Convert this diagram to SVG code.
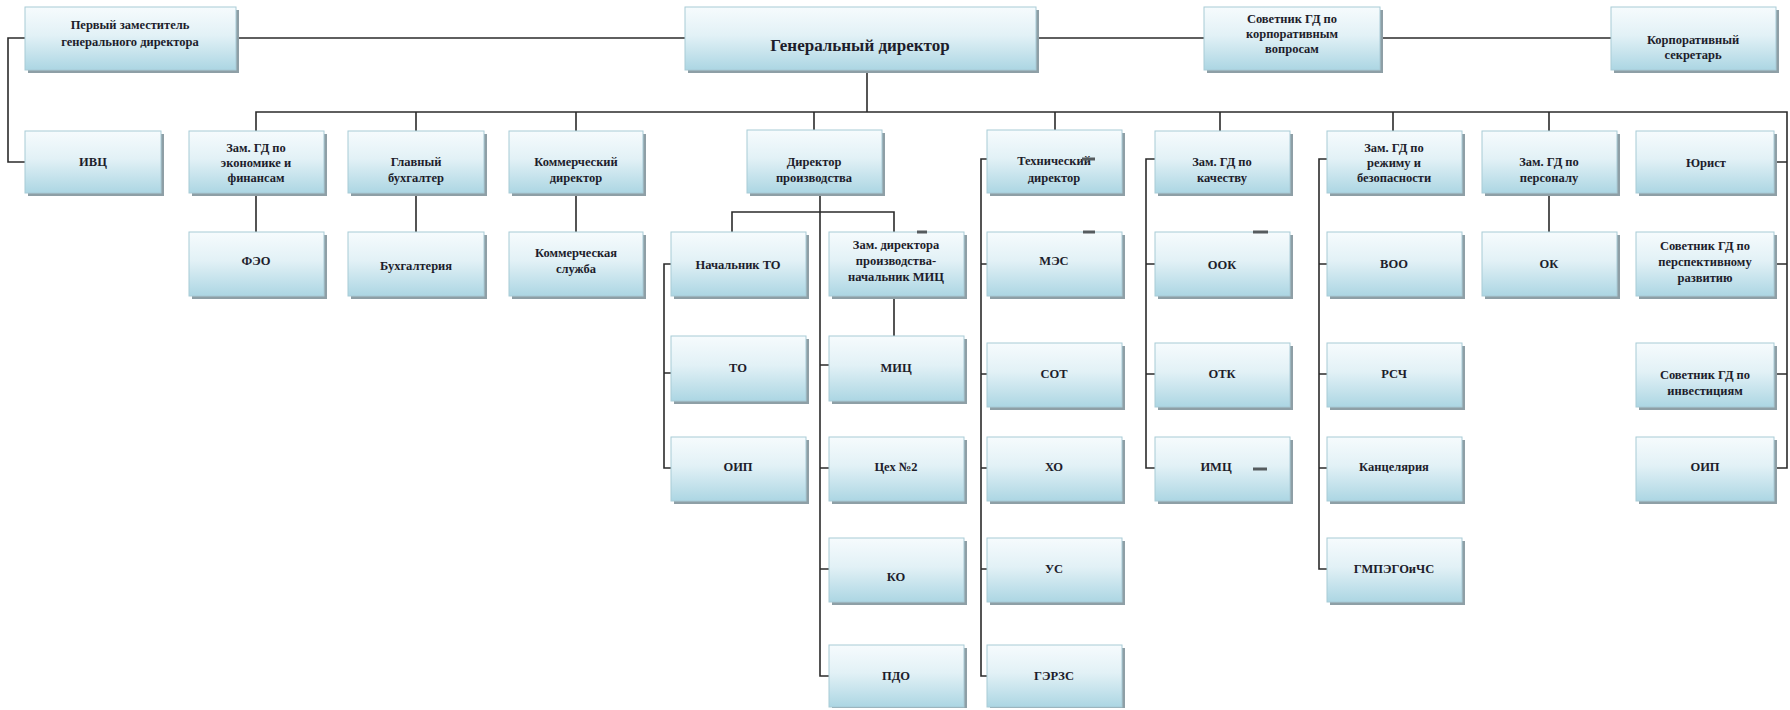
<svg xmlns="http://www.w3.org/2000/svg" width="1790" height="710" viewBox="0 0 1790 710">
<defs>
<linearGradient id="boxGrad" x1="0" y1="0" x2="0" y2="1">
<stop offset="0" stop-color="#f6fbfd"/>
<stop offset="0.45" stop-color="#e2f1f6"/>
<stop offset="1" stop-color="#acd6e3"/>
</linearGradient>
</defs>
<style>
.sh { fill: #8e9fa6; }
.bx { fill: url(#boxGrad); stroke: #a8cbd6; stroke-width: 1; }
.t { font-family: "Liberation Serif", "DejaVu Serif", serif; font-weight: bold; font-size: 12.5px; fill: #1d1d2b; text-anchor: middle; dominant-baseline: central; }
.big { font-size: 17px; }
.c { fill: none; stroke: #2b2b2b; stroke-width: 1.6; }
.mk { stroke: #555b5e; stroke-width: 3; }
</style>
<rect width="1790" height="710" fill="#ffffff"/>

<g id="connectors">
<path class="c" d="M236,38 H685 M1036,38 H1204 M1380,38 H1611"/>
<path class="c" d="M25,38 H8 V162 H25"/>
<path class="c" d="M867,70 V112"/>
<path class="c" d="M256,131 V112 H1787 V468 H1774"/>
<path class="c" d="M416,112 V131 M576,112 V131 M814,112 V130 M1055,112 V130 M1220,112 V131 M1393,112 V131 M1549,112 V131"/>
<path class="c" d="M1774,162 H1787 M1774,264 H1787 M1774,374 H1787"/>
<path class="c" d="M256,193 V232 M416,193 V232 M576,193 V232 M1549,193 V232"/>
<path class="c" d="M820,193 V676 H829 M820,365 H829 M820,468 H829 M820,569 H829"/>
<path class="c" d="M732,232 V212 H894 V232 M894,296 V336"/>
<path class="c" d="M671,264 H664 V468 H671 M664,373 H671"/>
<path class="c" d="M987,159 H981 V676 H987 M981,264 H987 M981,374 H987 M981,468 H987 M981,569 H987"/>
<path class="c" d="M1155,159 H1146 V468 H1155 M1146,264 H1155 M1146,374 H1155"/>
<path class="c" d="M1327,159 H1319 V569 H1327 M1319,264 H1327 M1319,374 H1327 M1319,468 H1327"/>
</g>

<g id="n_first"><rect class="sh" x="28" y="10" width="211" height="63"/><rect class="bx" x="25" y="7" width="211" height="63"/><text class="t" x="130" y="25">Первый заместитель</text><text class="t" x="130" y="42">генерального директора</text></g>
<g id="n_gd"><rect class="sh" x="688" y="10" width="351" height="63"/><rect class="bx" x="685" y="7" width="351" height="63"/><text class="t big" x="860" y="45">Генеральный директор</text></g>
<g id="n_sov_corp"><rect class="sh" x="1207" y="10" width="176" height="63"/><rect class="bx" x="1204" y="7" width="176" height="63"/><text class="t" x="1292" y="19">Советник ГД по</text><text class="t" x="1292" y="34">корпоративным</text><text class="t" x="1292" y="49">вопросам</text></g>
<g id="n_corp_sec"><rect class="sh" x="1614" y="10" width="165" height="63"/><rect class="bx" x="1611" y="7" width="165" height="63"/><text class="t" x="1693" y="40">Корпоративный</text><text class="t" x="1693" y="55">секретарь</text></g>

<g id="n_ivc"><rect class="sh" x="28" y="134" width="136" height="62"/><rect class="bx" x="25" y="131" width="136" height="62"/><text class="t" x="93" y="162">ИВЦ</text></g>
<g id="n_econ"><rect class="sh" x="192" y="134" width="135" height="62"/><rect class="bx" x="189" y="131" width="135" height="62"/><text class="t" x="256" y="148">Зам. ГД по</text><text class="t" x="256" y="163">экономике и</text><text class="t" x="256" y="178">финансам</text></g>
<g id="n_glbuh"><rect class="sh" x="351" y="134" width="136" height="62"/><rect class="bx" x="348" y="131" width="136" height="62"/><text class="t" x="416" y="162">Главный</text><text class="t" x="416" y="178">бухгалтер</text></g>
<g id="n_comm_dir"><rect class="sh" x="512" y="134" width="134" height="62"/><rect class="bx" x="509" y="131" width="134" height="62"/><text class="t" x="576" y="162">Коммерческий</text><text class="t" x="576" y="178">директор</text></g>
<g id="n_prod_dir"><rect class="sh" x="750" y="133" width="135" height="63"/><rect class="bx" x="747" y="130" width="135" height="63"/><text class="t" x="814" y="162">Директор</text><text class="t" x="814" y="178">производства</text></g>
<g id="n_tech"><rect class="sh" x="990" y="133" width="135" height="63"/><rect class="bx" x="987" y="130" width="135" height="63"/><text class="t" x="1054" y="161">Технический</text><text class="t" x="1054" y="178">директор</text></g>
<g id="n_quality"><rect class="sh" x="1158" y="134" width="135" height="62"/><rect class="bx" x="1155" y="131" width="135" height="62"/><text class="t" x="1222" y="162">Зам. ГД по</text><text class="t" x="1222" y="178">качеству</text></g>
<g id="n_regime"><rect class="sh" x="1330" y="134" width="135" height="62"/><rect class="bx" x="1327" y="131" width="135" height="62"/><text class="t" x="1394" y="148">Зам. ГД по</text><text class="t" x="1394" y="163">режиму и</text><text class="t" x="1394" y="178">безопасности</text></g>
<g id="n_personnel"><rect class="sh" x="1485" y="134" width="135" height="62"/><rect class="bx" x="1482" y="131" width="135" height="62"/><text class="t" x="1549" y="162">Зам. ГД по</text><text class="t" x="1549" y="178">персоналу</text></g>
<g id="n_lawyer"><rect class="sh" x="1639" y="134" width="138" height="62"/><rect class="bx" x="1636" y="131" width="138" height="62"/><text class="t" x="1706" y="163">Юрист</text></g>

<g id="n_feo"><rect class="sh" x="192" y="235" width="135" height="64"/><rect class="bx" x="189" y="232" width="135" height="64"/><text class="t" x="256" y="261">ФЭО</text></g>
<g id="n_buh"><rect class="sh" x="351" y="235" width="136" height="64"/><rect class="bx" x="348" y="232" width="136" height="64"/><text class="t" x="416" y="266">Бухгалтерия</text></g>
<g id="n_comm_serv"><rect class="sh" x="512" y="235" width="134" height="64"/><rect class="bx" x="509" y="232" width="134" height="64"/><text class="t" x="576" y="253">Коммерческая</text><text class="t" x="576" y="269">служба</text></g>
<g id="n_head_to"><rect class="sh" x="674" y="235" width="135" height="64"/><rect class="bx" x="671" y="232" width="135" height="64"/><text class="t" x="738" y="265">Начальник ТО</text></g>
<g id="n_dep_mic"><rect class="sh" x="832" y="235" width="135" height="64"/><rect class="bx" x="829" y="232" width="135" height="64"/><text class="t" x="896" y="245">Зам. директора</text><text class="t" x="896" y="261">производства-</text><text class="t" x="896" y="277">начальник МИЦ</text></g>
<g id="n_mes"><rect class="sh" x="990" y="235" width="135" height="64"/><rect class="bx" x="987" y="232" width="135" height="64"/><text class="t" x="1054" y="261">МЭС</text></g>
<g id="n_ook"><rect class="sh" x="1158" y="235" width="135" height="64"/><rect class="bx" x="1155" y="232" width="135" height="64"/><text class="t" x="1222" y="265">ООК</text></g>
<g id="n_voo"><rect class="sh" x="1330" y="235" width="135" height="64"/><rect class="bx" x="1327" y="232" width="135" height="64"/><text class="t" x="1394" y="264">ВОО</text></g>
<g id="n_ok"><rect class="sh" x="1485" y="235" width="135" height="64"/><rect class="bx" x="1482" y="232" width="135" height="64"/><text class="t" x="1549" y="264">ОК</text></g>
<g id="n_adv_persp"><rect class="sh" x="1639" y="235" width="138" height="64"/><rect class="bx" x="1636" y="232" width="138" height="64"/><text class="t" x="1705" y="246">Советник ГД по</text><text class="t" x="1705" y="262">перспективному</text><text class="t" x="1705" y="278">развитию</text></g>

<g id="n_to"><rect class="sh" x="674" y="339" width="135" height="65"/><rect class="bx" x="671" y="336" width="135" height="65"/><text class="t" x="738" y="368">ТО</text></g>
<g id="n_mic"><rect class="sh" x="832" y="339" width="135" height="65"/><rect class="bx" x="829" y="336" width="135" height="65"/><text class="t" x="896" y="368">МИЦ</text></g>
<g id="n_sot"><rect class="sh" x="990" y="346" width="135" height="64"/><rect class="bx" x="987" y="343" width="135" height="64"/><text class="t" x="1054" y="374">СОТ</text></g>
<g id="n_otk"><rect class="sh" x="1158" y="346" width="135" height="64"/><rect class="bx" x="1155" y="343" width="135" height="64"/><text class="t" x="1222" y="374">ОТК</text></g>
<g id="n_rsch"><rect class="sh" x="1330" y="346" width="135" height="64"/><rect class="bx" x="1327" y="343" width="135" height="64"/><text class="t" x="1394" y="374">РСЧ</text></g>
<g id="n_adv_inv"><rect class="sh" x="1639" y="346" width="138" height="64"/><rect class="bx" x="1636" y="343" width="138" height="64"/><text class="t" x="1705" y="375">Советник ГД по</text><text class="t" x="1705" y="391">инвестициям</text></g>

<g id="n_oip1"><rect class="sh" x="674" y="440" width="135" height="64"/><rect class="bx" x="671" y="437" width="135" height="64"/><text class="t" x="738" y="467">ОИП</text></g>
<g id="n_ceh2"><rect class="sh" x="832" y="440" width="135" height="64"/><rect class="bx" x="829" y="437" width="135" height="64"/><text class="t" x="896" y="467">Цех №2</text></g>
<g id="n_xo"><rect class="sh" x="990" y="440" width="135" height="64"/><rect class="bx" x="987" y="437" width="135" height="64"/><text class="t" x="1054" y="467">ХО</text></g>
<g id="n_imc"><rect class="sh" x="1158" y="440" width="135" height="64"/><rect class="bx" x="1155" y="437" width="135" height="64"/><text class="t" x="1216" y="467">ИМЦ</text></g>
<g id="n_kanc"><rect class="sh" x="1330" y="440" width="135" height="64"/><rect class="bx" x="1327" y="437" width="135" height="64"/><text class="t" x="1394" y="467">Канцелярия</text></g>
<g id="n_oip2"><rect class="sh" x="1639" y="440" width="138" height="64"/><rect class="bx" x="1636" y="437" width="138" height="64"/><text class="t" x="1705" y="467">ОИП</text></g>

<g id="n_ko"><rect class="sh" x="832" y="541" width="135" height="64"/><rect class="bx" x="829" y="538" width="135" height="64"/><text class="t" x="896" y="577">КО</text></g>
<g id="n_us"><rect class="sh" x="990" y="541" width="135" height="64"/><rect class="bx" x="987" y="538" width="135" height="64"/><text class="t" x="1054" y="569">УС</text></g>
<g id="n_gmp"><rect class="sh" x="1330" y="541" width="135" height="64"/><rect class="bx" x="1327" y="538" width="135" height="64"/><text class="t" x="1394" y="569">ГМПЭГОиЧС</text></g>

<g id="n_pdo"><rect class="sh" x="832" y="648" width="135" height="60"/><rect class="bx" x="829" y="645" width="135" height="62"/><text class="t" x="896" y="676">ПДО</text></g>
<g id="n_gerzs"><rect class="sh" x="990" y="648" width="135" height="60"/><rect class="bx" x="987" y="645" width="135" height="62"/><text class="t" x="1054" y="676">ГЭРЗС</text></g>

<g id="marks">
<line class="mk" x1="917" y1="232" x2="927" y2="232"/>
<line class="mk" x1="1082" y1="159" x2="1095" y2="159"/>
<line class="mk" x1="1083" y1="232" x2="1095" y2="232"/>
<line class="mk" x1="1253" y1="232" x2="1268" y2="232"/>
<line class="mk" x1="1253" y1="469" x2="1267" y2="469"/>
</g>
</svg>
